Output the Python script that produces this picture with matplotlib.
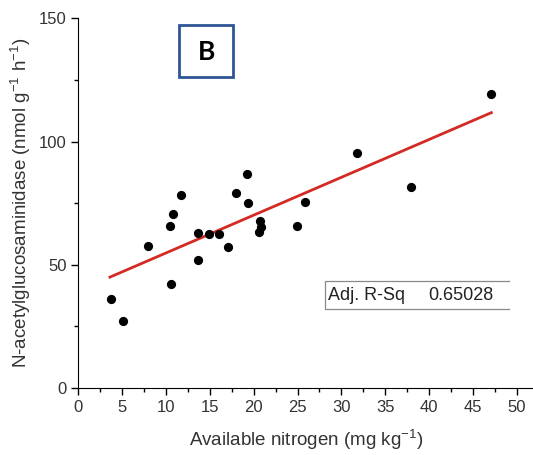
import numpy as np
import matplotlib
matplotlib.use("Agg")
import matplotlib.pyplot as plt
from matplotlib.patches import Rectangle
from matplotlib.ticker import MultipleLocator

matplotlib.rcParams.update({
    'font.family': 'Liberation Sans',
    'mathtext.fontset': 'custom',
    'mathtext.rm': 'Liberation Sans',
    'mathtext.default': 'regular',
})

# available nitrogen (mg/kg) vs N-acetylglucosaminidase (nmol/g/h)
nitrogen = [3.7, 5.1, 7.9, 10.5, 10.8, 10.6, 11.7, 13.6, 13.6, 14.9, 16.0, 17.1,
            18.0, 19.2, 19.4, 20.7, 20.8, 20.6, 24.9, 25.9, 37.9, 31.8, 47.1]
nag = [36.0, 27.4, 57.8, 65.9, 70.5, 42.4, 78.5, 62.7, 51.9, 62.6, 62.6, 57.4,
       79.3, 86.9, 74.9, 67.8, 65.5, 63.4, 65.9, 75.4, 81.5, 95.3, 119.3]

# linear fit line endpoints
fit_x = [3.6, 47.1]
fit_y = [45.0, 111.7]

adj_r2 = "0.65028"
panel_label = "B"

fig = plt.figure(figsize=(5.33, 4.55), dpi=100)
ax = fig.add_axes([0.147, 0.147, 0.853, 0.813])

ax.plot(fit_x, fit_y, color="#d42a24", lw=2.0, zorder=2)
ax.scatter(nitrogen, nag, s=44, color="black", zorder=3, linewidths=0)

ax.set_xlim(0, 51.85)
ax.set_ylim(0, 150)
ax.xaxis.set_major_locator(MultipleLocator(5))
ax.xaxis.set_minor_locator(MultipleLocator(2.5))
ax.yaxis.set_major_locator(MultipleLocator(50))
ax.yaxis.set_minor_locator(MultipleLocator(25))
ax.tick_params(which="major", direction="out", length=5, width=1, labelsize=12,
               labelcolor="#333333")
ax.tick_params(which="minor", direction="out", length=3, width=1)
for s in ("top", "right"):
    ax.spines[s].set_visible(False)

ax.set_xlabel("Available nitrogen (mg kg$^{-1}$)", fontsize=13.5, color="#333333",
              labelpad=9)
ax.set_ylabel("N-acetylglucosaminidase (nmol g$^{-1}$ h$^{-1}$)", fontsize=13.5,
              color="#333333", labelpad=4)

# panel label box
ax.add_patch(Rectangle((11.43, 126.1), 6.16, 21.0, transform=ax.transData,
                       fill=False, edgecolor="#2f5597", lw=2, clip_on=False))
ax.text(14.6, 136.4, panel_label, fontsize=19, fontweight="bold",
        family="Lato", ha="center", va="center")

# Adj. R-Sq table (open on the right)
ax.plot([49.1, 28.13, 28.13, 49.1], [43.4, 43.4, 32.0, 32.0], color="#888888",
        lw=0.9, clip_on=False)
ax.text(28.5, 37.7, "Adj. R-Sq", fontsize=13, va="center", color="#222222")
ax.text(39.95, 37.7, adj_r2, fontsize=13, va="center", color="#222222")

fig.savefig("out.png", dpi=100)
